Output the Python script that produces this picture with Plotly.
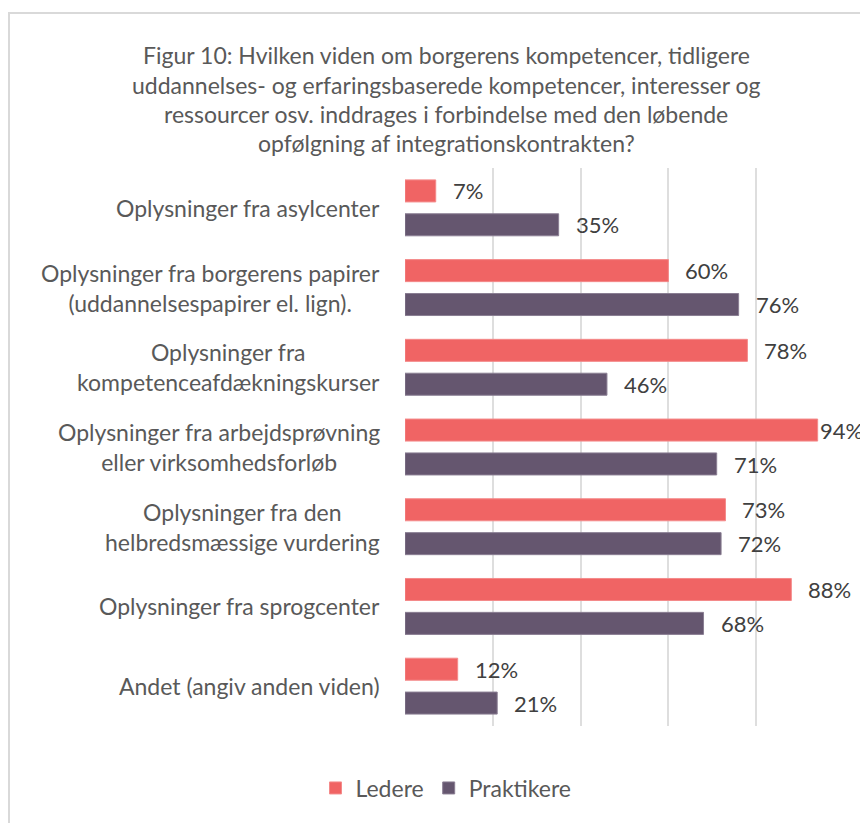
import plotly.graph_objects as go

categories = [
    "Oplysninger fra asylcenter",
    "Oplysninger fra borgerens papirer<br>(uddannelsespapirer el. lign).",
    "Oplysninger fra<br>kompetenceafdækningskurser",
    "Oplysninger fra arbejdsprøvning<br>eller virksomhedsforløb",
    "Oplysninger fra den<br>helbredsmæssige vurdering",
    "Oplysninger fra sprogcenter",
    "Andet (angiv anden viden)",
]
ledere = [0.07, 0.60, 0.78, 0.94, 0.73, 0.88, 0.12]
praktikere = [0.35, 0.76, 0.46, 0.71, 0.72, 0.68, 0.21]
series_names = ["Ledere", "Praktikere"]
title_lines = [
    "Figur 10: Hvilken viden om borgerens kompetencer, tidligere",
    "uddannelses- og erfaringsbaserede kompetencer, interesser og",
    "ressourcer osv. inddrages i forbindelse med den løbende",
    "opfølgning af integrationskontrakten?",
]
x_ticks = [0, 0.2, 0.4, 0.6, 0.8, 1.0]

FONT = "Source Sans Pro, Lato, Noto Sans, sans-serif"
RED = "#F06464"
PURPLE = "#65566F"

# figure is offset by the 8px page margin
W, H = 860, 815
ML, MR, MT, MB = 397, 24, 160, 97
PW, PH = W - ML - MR, H - MT - MB


def px_to_paper_x(px):
    return (px - 8 - ML) / PW


def px_to_paper_y(py):
    return (H - MB - (py - 8)) / PH


fig = go.Figure()
fig.add_trace(go.Bar(y=categories, x=ledere, orientation="h", name=series_names[0],
                     marker=dict(color=RED, line=dict(color="#F48A8A", width=1))))
fig.add_trace(go.Bar(y=categories, x=praktikere, orientation="h", name=series_names[1],
                     marker=dict(color=PURPLE, line=dict(color="#8A7E93", width=1))))

annotations = []
for c in categories:
    annotations.append(dict(x=0, xref="paper", y=c, yref="y", text=c, showarrow=False,
                            xanchor="right", xshift=-23, align="center",
                            font=dict(family=FONT, size=23, color="#595959")))
for vals, ys in ((ledere, 17), (praktikere, -17)):
    for c, v in zip(categories, vals):
        annotations.append(dict(x=v, xref="x", y=c, yref="y", text=f"{round(v*100)}%",
                                showarrow=False, xanchor="left",
                                xshift=(0 if v > 0.9 else 15), yshift=ys,
                                font=dict(family=FONT, size=22, color="#404040")))
for i, line in enumerate(title_lines):
    annotations.append(dict(x=px_to_paper_x(446), xref="paper", y=px_to_paper_y(55 + 29.5 * i),
                            yref="paper", text=line, showarrow=False, xanchor="center",
                            yanchor="middle",
                            font=dict(family=FONT, size=23, color="#595959")))

fig.update_layout(
    width=W, height=H,
    margin=dict(l=ML, r=MR, t=MT, b=MB),
    paper_bgcolor="white", plot_bgcolor="white",
    barmode="group", bargap=0.15, bargroupgap=0.35,
    showlegend=True,
    legend=dict(orientation="h", x=px_to_paper_x(446), xanchor="center",
                y=px_to_paper_y(788), yanchor="middle", itemwidth=30,
                font=dict(family=FONT, size=23, color="#595959"), traceorder="normal"),
    xaxis=dict(range=[0, 1], tickvals=x_ticks, showticklabels=False, showgrid=True,
               gridcolor="#DEDEDE", gridwidth=2, zeroline=False, showline=False, fixedrange=True),
    yaxis=dict(autorange="reversed", showticklabels=False, showgrid=False, zeroline=False,
               showline=False),
    annotations=annotations,
    shapes=[dict(type="rect", xref="paper", yref="paper",
                 x0=px_to_paper_x(9), x1=px_to_paper_x(900),
                 y0=px_to_paper_y(900), y1=px_to_paper_y(13),
                 line=dict(color="#D9D9D9", width=2), fillcolor="rgba(0,0,0,0)", layer="below")],
    font=dict(family=FONT),
)

fig.write_html("out.html")
